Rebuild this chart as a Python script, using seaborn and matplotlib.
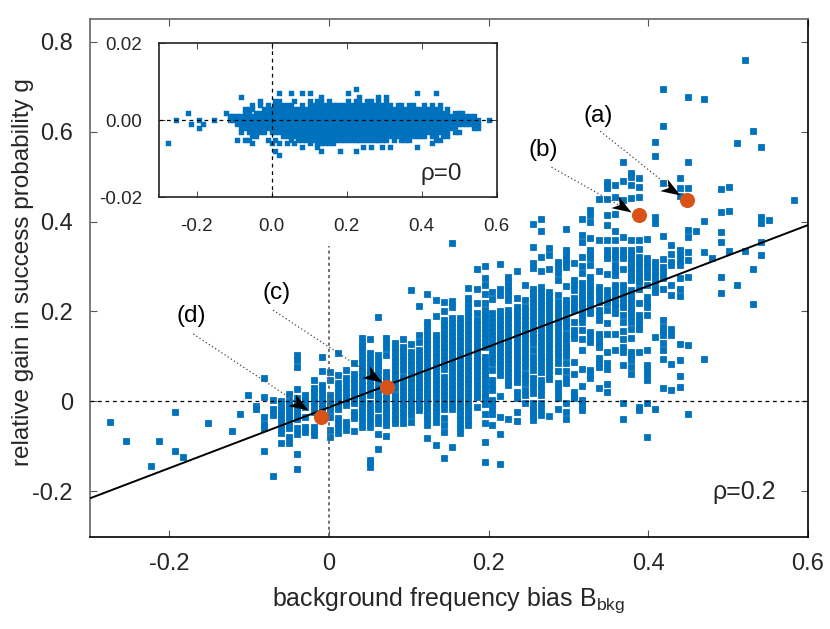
"""Gain in success probability vs background frequency bias, rho=0.2 with rho=0 inset."""
import matplotlib

matplotlib.use("Agg")
import matplotlib.pyplot as plt
import pandas as pd
import seaborn as sns
from matplotlib.markers import MarkerStyle
from matplotlib.path import Path

# ---- main panel ----
bias_main = [
    -0.274, -0.254, -0.223, -0.213, -0.193, -0.183, -0.152, -0.121, -0.111, -0.101, -0.091, -0.081,
    -0.070, -0.060, -0.050, -0.040, -0.030, -0.019, -0.009, 0.001, 0.011, 0.021, 0.032, 0.042,
    0.052, 0.062, 0.072, 0.083, 0.093, 0.103, 0.113, 0.123, 0.134, 0.144, 0.154, 0.164,
    0.174, 0.185, 0.195, 0.205, 0.215, 0.225, 0.236, 0.246, 0.256, 0.266, 0.276, 0.287,
    0.297, 0.307, 0.317, 0.327, 0.338, 0.348, 0.358, 0.368, 0.378, 0.389, 0.399, 0.409,
    0.419, 0.429, 0.440, 0.450, 0.460, 0.470, 0.480, 0.491, 0.501, 0.511, 0.521, 0.531,
    0.542, 0.552, 0.583,
]
gain_main = [
    [-0.045], [-0.089], [-0.143], [-0.089], [-0.023, -0.110], [-0.124], [-0.048], [-0.066], [-0.029], [0.014],
    [-0.01, -0.018],
    [0.053, 0.01, -0.035, -0.05, -0.06, -0.11],
    [0.003, -0.016, -0.03, -0.166],
    [0.0, -0.01, -0.02, -0.03, -0.04, -0.05, -0.06, -0.071, -0.093],
    [0.016, 0.0, -0.01, -0.02, -0.03, -0.038, -0.053, -0.06, -0.079, -0.093],
    [0.103, 0.092, 0.077, 0.027, 0.007, -0.003, -0.013, -0.023, -0.033, -0.04, -0.06, -0.073, -0.117, -0.15],
    [0.014, 0.004, -0.005, -0.012, -0.034, -0.056, -0.067],
    [0.047, 0.029, 0.02, 0.01, 0.0, -0.01, -0.023, -0.056, -0.065, -0.075],
    [0.098, 0.068, 0.036, 0.026, 0.016, 0.006, -0.004, -0.014, -0.023],
    [0.066, 0.047, 0.014, 0.0, -0.01, -0.02, -0.034, -0.064, -0.08],
    [0.107, 0.059, 0.04, 0.03, 0.02, 0.01, 0.0, -0.008, -0.016, -0.038, -0.048, -0.058, -0.071],
    [0.07, 0.051, 0.04, 0.03, 0.02, 0.01, 0.0, -0.008, -0.045, -0.055, -0.064],
    [0.085, 0.062, 0.05, 0.04, 0.03, 0.02, 0.01, 0.0, -0.004, -0.023, -0.03, -0.038, -0.066],
    [0.14, 0.13, 0.122, 0.11, 0.096, 0.086, 0.077, 0.066, 0.056, 0.046, 0.036, 0.026, 0.016, 0.006, -0.004, -0.014,
     -0.024, -0.034, -0.044, -0.056],
    [0.139, 0.107, 0.097, 0.087, 0.077, 0.066, 0.056, 0.046, 0.036, 0.026, 0.014, -0.004, -0.014, -0.024, -0.034,
     -0.044, -0.056, -0.13, -0.138, -0.145],
    [0.187, 0.103, 0.092, 0.082, 0.072, 0.062, 0.047, 0.033, 0.023, 0.013, 0.003, -0.007, -0.017, -0.034, -0.049,
     -0.073, -0.106],
    [0.14, 0.13, 0.118, 0.103, 0.066, 0.056, 0.046, 0.036, 0.026, 0.016, 0.006, -0.004, -0.014, -0.024, -0.034,
     -0.044, -0.053, -0.077],
    [0.129, 0.119, 0.109, 0.099, 0.089, 0.081, 0.07, 0.06, 0.05, 0.04, 0.03, 0.014, 0.01, 0.0, -0.01, -0.02, -0.03,
     -0.04, -0.049],
    [0.138, 0.122, 0.112, 0.102, 0.092, 0.082, 0.07, 0.055, 0.045, 0.035, 0.025, 0.015, 0.005, -0.005, -0.015,
     -0.025, -0.034, -0.047],
    [0.248, 0.128, 0.11, 0.1, 0.09, 0.08, 0.07, 0.06, 0.05, 0.04, 0.03, 0.02, 0.01, 0.0, -0.01, -0.02, -0.03, -0.045],
    [0.212, 0.148, 0.133, 0.114, 0.103, 0.093, 0.083, 0.073, 0.063, 0.053, 0.04, 0.033, 0.023, 0.013, 0.003, -0.007,
     -0.019],
    [0.239, 0.177, 0.167, 0.157, 0.147, 0.137, 0.127, 0.117, 0.107, 0.097, 0.087, 0.077, 0.067, 0.057, 0.047, 0.037,
     0.027, 0.018, 0.01, 0.0, -0.01, -0.02, -0.03, -0.04, -0.053, -0.081],
    [0.226, 0.19, 0.148, 0.138, 0.128, 0.118, 0.108, 0.098, 0.088, 0.078, 0.068, 0.058, 0.048, 0.038, 0.028, 0.018,
     0.008, -0.002, -0.012, -0.022, -0.032, -0.045, -0.096],
    [0.222, 0.2, 0.181, 0.171, 0.161, 0.151, 0.141, 0.131, 0.121, 0.111, 0.101, 0.091, 0.081, 0.071, 0.055, 0.044,
     0.034, 0.024, 0.014, 0.004, -0.006, -0.016, -0.038, -0.053, -0.068, -0.127],
    [0.352, 0.223, 0.209, 0.185, 0.175, 0.165, 0.155, 0.145, 0.135, 0.125, 0.115, 0.105, 0.095, 0.085, 0.077, 0.067,
     0.057, 0.047, 0.037, 0.027, 0.017, 0.007, -0.003, -0.016, -0.102],
    [0.185, 0.174, 0.164, 0.154, 0.144, 0.134, 0.124, 0.114, 0.104, 0.094, 0.084, 0.074, 0.064, 0.054, 0.044, 0.034,
     0.024, 0.01, 0.0, -0.01, -0.02, -0.03, -0.04, -0.05, -0.06, -0.071],
    [0.253, 0.229, 0.219, 0.209, 0.199, 0.189, 0.179, 0.169, 0.159, 0.149, 0.139, 0.129, 0.119, 0.109, 0.099, 0.089,
     0.079, 0.069, 0.059, 0.049, 0.04, 0.029, 0.019, 0.009, -0.001, -0.011, -0.021, -0.031, -0.041, -0.053],
    [0.295, 0.25, 0.218, 0.196, 0.182, 0.172, 0.162, 0.152, 0.142, 0.132, 0.122, 0.112, 0.102, 0.092, 0.085, 0.077,
     0.067, 0.057, 0.047, 0.037, 0.027, 0.017, 0.01, -0.013],
    [0.301, 0.274, 0.259, 0.24, 0.218, 0.203, 0.193, 0.183, 0.173, 0.163, 0.153, 0.143, 0.133, 0.122, 0.099, 0.089,
     0.079, 0.069, 0.059, 0.049, 0.039, 0.029, 0.019, 0.009, 0.003, -0.006, -0.029, -0.047, -0.09, -0.134],
    [0.244, 0.227, 0.196, 0.186, 0.176, 0.166, 0.156, 0.146, 0.136, 0.126, 0.116, 0.106, 0.096, 0.086, 0.07, 0.047,
     0.037, 0.025, 0.003, -0.006, -0.016, -0.027, -0.053],
    [0.306, 0.251, 0.237, 0.2, 0.19, 0.18, 0.17, 0.16, 0.15, 0.14, 0.13, 0.12, 0.11, 0.1, 0.09, 0.08, 0.07, 0.059,
     0.013, -0.034, -0.073, -0.14],
    [0.277, 0.267, 0.257, 0.247, 0.237, 0.226, 0.203, 0.192, 0.185, 0.175, 0.165, 0.155, 0.145, 0.135, 0.125, 0.115,
     0.105, 0.095, 0.085, 0.075, 0.065, 0.055, 0.045, 0.036, -0.039],
    [0.289, 0.231, 0.211, 0.201, 0.191, 0.181, 0.171, 0.161, 0.151, 0.141, 0.131, 0.121, 0.111, 0.101, 0.091, 0.081,
     0.071, 0.061, 0.051, 0.044, 0.022, 0.007, -0.024, -0.044],
    [0.259, 0.226, 0.211, 0.201, 0.191, 0.181, 0.171, 0.161, 0.151, 0.141, 0.131, 0.118, 0.107, 0.097, 0.087, 0.077,
     0.062, 0.052, 0.042, 0.025, 0.014, -0.004],
    [0.395, 0.344, 0.307, 0.296, 0.251, 0.241, 0.231, 0.221, 0.211, 0.201, 0.191, 0.181, 0.171, 0.161, 0.151, 0.141,
     0.131, 0.114, 0.099, 0.089, 0.079, 0.07, 0.051, 0.041, 0.031, 0.018, -0.004, -0.014, -0.024, -0.032, -0.042],
    [0.406, 0.378, 0.322, 0.289, 0.254, 0.244, 0.234, 0.224, 0.214, 0.204, 0.194, 0.184, 0.174, 0.164, 0.154, 0.144,
     0.134, 0.124, 0.11, 0.099, 0.089, 0.079, 0.066, 0.047, 0.037, 0.027, 0.014, -0.004, -0.016, -0.03],
    [0.342, 0.326, 0.294, 0.244, 0.234, 0.224, 0.218, 0.211, 0.201, 0.191, 0.181, 0.171, 0.161, 0.151, 0.141, 0.129,
     0.118, 0.108, 0.099, 0.092, 0.082, 0.072, 0.059, 0.05, -0.032],
    [0.311, 0.298, 0.285, 0.27, 0.237, 0.222, 0.207, 0.197, 0.187, 0.177, 0.167, 0.155, 0.144, 0.129, 0.118, 0.108,
     0.098, 0.085, 0.068, 0.04, 0.03, 0.02, 0.007, -0.017],
    [0.383, 0.337, 0.327, 0.317, 0.307, 0.3, 0.257, 0.226, 0.216, 0.206, 0.196, 0.186, 0.176, 0.166, 0.151, 0.14,
     0.13, 0.12, 0.11, 0.1, 0.085, 0.068, 0.051, 0.04, -0.004, -0.023, -0.04],
    [0.307, 0.27, 0.259, 0.248, 0.229, 0.219, 0.209, 0.203, 0.177, 0.159, 0.149, 0.14, 0.088, 0.061, 0.022, 0.014,
     0.007],
    [0.406, 0.37, 0.355, 0.322, 0.301, 0.285, 0.263, 0.251, 0.237, 0.227, 0.217, 0.207, 0.197, 0.187, 0.177, 0.159,
     0.138, 0.114, 0.073, 0.035, 0.003, -0.009, -0.019],
    [0.426, 0.415, 0.4, 0.363, 0.337, 0.327, 0.318, 0.303, 0.277, 0.267, 0.257, 0.247, 0.237, 0.227, 0.217, 0.207,
     0.196, 0.155, 0.145, 0.133, 0.07, 0.06, 0.051],
    [0.45, 0.358, 0.289, 0.255, 0.245, 0.233, 0.222, 0.203, 0.192, 0.181, 0.151, 0.141, 0.131, 0.122, 0.096, 0.086,
     0.077, 0.03],
    [0.489, 0.481, 0.474, 0.45, 0.414, 0.392, 0.358, 0.337, 0.327, 0.318, 0.283, 0.248, 0.238, 0.228, 0.218, 0.203,
     0.175, 0.149, 0.109, 0.085, 0.073, 0.039, 0.02],
    [0.481, 0.455, 0.417, 0.378, 0.358, 0.337, 0.327, 0.318, 0.303, 0.292, 0.281, 0.259, 0.249, 0.239, 0.229, 0.219,
     0.209, 0.196, 0.151, 0.114],
    [0.533, 0.491, 0.448, 0.366, 0.337, 0.327, 0.318, 0.294, 0.259, 0.249, 0.239, 0.229, 0.219, 0.209, 0.192, 0.177,
     0.157, 0.138, 0.122, 0.11, 0.081, -0.004, -0.04],
    [0.507, 0.5, 0.481, 0.452, 0.359, 0.337, 0.327, 0.318, 0.307, 0.297, 0.287, 0.277, 0.27, 0.248, 0.238, 0.228,
     0.218, 0.208, 0.198, 0.188, 0.177, 0.16, 0.142, 0.11, 0.1, 0.092, 0.077, 0.062],
    [0.496, 0.478, 0.455, 0.358, 0.339, 0.322, 0.311, 0.3, 0.285, 0.275, 0.265, 0.251, 0.218, 0.192, 0.182, 0.172,
     0.162, 0.109, -0.012, -0.019],
    [0.361, 0.318, 0.308, 0.298, 0.288, 0.277, 0.26, 0.233, 0.222, 0.211, 0.192, 0.114, 0.081, 0.071, 0.061, 0.047,
     -0.004, -0.079],
    [0.576, 0.547, 0.411, 0.396, 0.311, 0.301, 0.291, 0.281, 0.271, 0.263, 0.251, 0.244, 0.144, -0.017],
    [0.695, 0.613, 0.485, 0.368, 0.316, 0.3, 0.287, 0.274, 0.251, 0.181, 0.166, 0.157, 0.148, 0.129, 0.114, 0.094,
     0.029],
    [0.349, 0.329, 0.311, 0.303, 0.259, 0.237, 0.162, 0.148, 0.083, 0.025],
    [0.498, 0.475, 0.457, 0.337, 0.326, 0.315, 0.303, 0.274, 0.251, 0.234, 0.128, 0.093, 0.057, 0.033],
    [0.677, 0.532, 0.475, 0.381, 0.366, 0.333, 0.315, 0.277, 0.125, -0.029],
    [0.378],
    [0.673, 0.401, 0.333, 0.094],
    [0.32],
    [0.473, 0.422, 0.376, 0.354, 0.276, 0.242],
    [0.478, 0.424, 0.335],
    [0.574, 0.259],
    [0.76, 0.335],
    [0.602, 0.295, 0.216],
    [0.566, 0.411, 0.396, 0.354, 0.326],
    [0.403],
    [0.448],
]

fit_bias = [-0.3, 0.6]
fit_gain = [-0.216, 0.392]

marked_bias = [0.449, 0.389, 0.073, -0.010]
marked_gain = [0.447, 0.414, 0.033, -0.034]
marked_labels = ["(a)", "(b)", "(c)", "(d)"]
label_bias = [0.338, 0.268, -0.066, -0.172]
label_gain = [0.635, 0.559, 0.241, 0.190]
leader_bias = [0.340, 0.279, -0.070, -0.170]
leader_gain = [0.601, 0.521, 0.203, 0.150]
tip_bias = [0.440, 0.378, 0.066, -0.026]
tip_gain = [0.459, 0.422, 0.044, -0.019]

main_xticks = [-0.2, 0, 0.2, 0.4, 0.6]
main_xlabels = ["-0.2", "0", "0.2", "0.4", "0.6"]
main_yticks = [-0.2, 0, 0.2, 0.4, 0.6, 0.8]
main_ylabels = ["-0.2", "0", "0.2", "0.4", "0.6", "0.8"]

# ---- inset, gain is in thousandths ----
bias_inset = [
    -0.276, -0.255, -0.224, -0.214, -0.194, -0.183, -0.153, -0.122, -0.112, -0.102, -0.092, -0.081, -0.071,
    -0.061, -0.051, -0.041, -0.031, -0.020, -0.010, 0.000, 0.010, 0.020, 0.031, 0.041, 0.051, 0.061, 0.071,
    0.081, 0.092, 0.102, 0.112, 0.122, 0.132, 0.143, 0.153, 0.163, 0.173, 0.183, 0.193, 0.204, 0.214, 0.224,
    0.234, 0.244, 0.254, 0.265, 0.275, 0.285, 0.295, 0.305, 0.316, 0.326, 0.336, 0.346, 0.356, 0.366, 0.377,
    0.387, 0.397, 0.407, 0.417, 0.428, 0.438, 0.448, 0.458, 0.468, 0.478, 0.488, 0.499, 0.509, 0.519, 0.529,
    0.539, 0.550, 0.580,
]
gain_inset_milli = [
    [-6], [0], [2], [-1], [0, -2], [-1], [0], [2], [1, 0], [1, 0], [1, 0, -1, -5],
    [6, 1, 0, -1, -2, -3],
    [3, 2, 1, 0, -1, -2, -5],
    [3, 2, 1, 0, -1, -2, -3, -5],
    [4, 3, 1, 0, -1, -2, -3, -4, -6],
    [2, 1, 0, -1, -2, -3, -4],
    [5, 4, 2, 1, 0, -1, -2, -3],
    [3, 2, 1, 0, -1, -2, -3],
    [4, 3, 2, 1, 0, -1, -2, -5],
    [3, 2, 1, 0, -1, -2, -3, -6],
    [5, 4, 3, 2, 1, 0, -1, -2, -3, -5, -8],
    [7, 5, 4, 3, 2, 1, 0, -1, -2, -3, -6, -9],
    [4, 3, 2, 1, 0, -1, -2, -3, -4],
    [4, 3, 2, 1, 0, -1, -2, -3, -4, -6],
    [7, 4, 3, 2, 1, 0, -1, -2, -3, -4, -5],
    [5, 3, 2, 1, 0, -1, -2, -3, -4, -6],
    [3, 2, 1, 0, -1, -2, -3, -4, -5],
    [7, 4, 3, 2, 1, 0, -1, -2, -3, -4, -5, -7],
    [3, 2, 1, 0, -1, -2, -3, -4, -5],
    [7, 5, 4, 3, 2, 1, 0, -1, -2, -3, -4, -5, -6],
    [4, 3, 2, 1, 0, -1, -2, -3, -4, -5],
    [5, 4, 3, 2, 1, 0, -1, -2, -3, -4, -5, -6, -7],
    [6, 5, 4, 3, 2, 1, 0, -1, -2, -3, -4, -5, -6, -8],
    [4, 3, 2, 1, 0, -1, -2, -3, -4, -5, -6],
    [5, 4, 3, 2, 1, 0, -1, -2, -3, -4, -5, -6],
    [4, 3, 2, 1, 0, -1, -2, -3, -4, -5, -6],
    [4, 3, 2, 1, 0, -1, -2, -3, -4, -5],
    [4, 3, 2, 1, 0, -1, -2, -3, -4, -5, -8],
    [4, 3, 2, 1, 0, -1, -2, -3, -4, -5],
    [7, 5, 4, 3, 2, 1, 0, -1, -2, -3, -4, -5],
    [4, 3, 2, 1, 0, -1, -2, -3, -4, -5],
    [8, 5, 4, 3, 2, 1, 0, -1, -2, -3, -4, -5, -8],
    [6, 5, 4, 3, 2, 1, 0, -1, -2, -3, -4, -5],
    [4, 3, 2, 1, 0, -1, -2, -3, -4, -5, -7],
    [5, 4, 3, 2, 1, 0, -1, -2, -3, -4, -5],
    [5, 4, 3, 2, 1, 0, -1, -2, -3, -4, -5, -7],
    [4, 3, 2, 1, 0, -1, -2, -3, -4, -5],
    [6, 5, 4, 3, 2, 1, 0, -1, -2, -3, -4, -5],
    [4, 3, 2, 1, 0, -1, -2, -3, -4, -5, -7],
    [6, 5, 4, 3, 2, 1, 0, -1, -2, -3, -4, -5],
    [4, 3, 2, 1, 0, -1, -2, -3, -4, -7],
    [3, 2, 1, 0, -1, -2, -3, -4, -5],
    [4, 3, 2, 1, 0, -1, -2, -3, -4],
    [4, 3, 2, 1, 0, -1, -2, -3, -4, -5],
    [3, 2, 1, 0, -1, -2, -3, -4, -5],
    [4, 3, 2, 1, 0, -1, -2, -3, -4, -5],
    [4, 3, 2, 1, 0, -1, -2, -3, -4],
    [7, 3, 2, 1, 0, -1, -2, -3, -4, -7],
    [3, 2, 1, 0, -1, -2, -3, -4],
    [4, 3, 2, 1, 0, -1, -2, -3, -4],
    [3, 2, 1, 0, -1, -2, -3],
    [4, 3, 2, 1, 0, -1, -2, -3, -4, -6],
    [7, 3, 2, 1, 0, -1, -2, -3, -4, -5],
    [4, 3, 2, 1, 0, -1, -2, -3, -5],
    [2, 1, 0, -1, -2, -3, -4],
    [3, 2, 1, 0, -1, -2, -3, -4],
    [1, 0, -1, -2],
    [2, 1, 0, -1, -2, -3],
    [2, 1, 0, -1, -3],
    [2, 1, 0, -1],
    [1, 0, -1],
    [1, 0, -1],
    [1, 0, -1, -2],
    [0, -1, -2],
    [0],
]

inset_xticks = [-0.2, 0.0, 0.2, 0.4, 0.6]
inset_xlabels = ["-0.2", "0.0", "0.2", "0.4", "0.6"]
inset_yticks = [-0.02, 0.0, 0.02]
inset_ylabels = ["-0.02", "0.00", "0.02"]

BLUE = "#0072BD"
ORANGE = "#D95319"
W, H = 830, 629


def long_form(xs, columns, scale=1.0):
    rows = [(x, y * scale) for x, col in zip(xs, columns) for y in col]
    return pd.DataFrame(rows, columns=["bias", "gain"])


def px_axes(fig, left, top, right, bottom):
    return fig.add_axes([left / W, 1 - bottom / H, (right - left) / W, (bottom - top) / H])


sns.set_theme(style="ticks")
plt.rcParams["font.family"] = ["Liberation Sans", "DejaVu Sans"]
plt.rcParams["mathtext.fontset"] = "custom"
plt.rcParams["mathtext.rm"] = "Liberation Sans"

fig = plt.figure(figsize=(W / 100, H / 100), dpi=100)

# ---- main panel ----
ax = px_axes(fig, 89.5, 19.3, 807.7, 536.7)
sns.scatterplot(data=long_form(bias_main, gain_main), x="bias", y="gain", marker="s", s=24,
                color=BLUE, linewidth=0, ax=ax, zorder=2)
ax.collections[-1].set_snap(False)  # soft edges, keeps the columns apart
ax.plot(fit_bias, fit_gain, color="black", lw=1.4, zorder=3)
ax.plot([-0.3, 0.6], [0, 0], color="black", lw=0.9, ls=(0, (3, 3)), zorder=3)
ax.plot([0, 0], [-0.3, 0.345], color="#666666", lw=1.3, ls=(0, (1.7, 1.7)), zorder=3)

for i, lab in enumerate(marked_labels):
    ax.plot([leader_bias[i], tip_bias[i]], [leader_gain[i], tip_gain[i]], color="#444444",
            lw=0.9, ls=(0, (1, 2)), zorder=4)
    ax.text(label_bias[i], label_gain[i], lab, ha="center", va="center", fontsize=17.5, color="black")

sns.scatterplot(x=marked_bias, y=marked_gain, s=118, color=ORANGE, linewidth=0, ax=ax, zorder=5)

# stealth arrow heads, nose at the origin of the marker path
head = Path([(0, 0), (-1, 0.36), (-0.72, 0), (-1, -0.36), (0, 0)],
            [Path.MOVETO, Path.LINETO, Path.LINETO, Path.LINETO, Path.CLOSEPOLY])
for i in range(4):
    ax.plot(tip_bias[i], tip_gain[i], ls="none", color="black", markersize=28, markeredgewidth=0,
            marker=MarkerStyle(head).rotated(deg=-32), zorder=6)

ax.text(0.52, -0.202, "ρ=0.2", ha="center", va="center", fontsize=18)
ax.set_xlim(-0.3, 0.6)
ax.set_ylim(-0.301, 0.85)
ax.set_xticks(main_xticks, main_xlabels)
ax.set_yticks(main_yticks, main_ylabels)
ax.tick_params(direction="in", length=5, width=0.8, color="#555555", top=True, right=True,
               labelsize=17, bottom=True, left=True)
ax.tick_params(axis="x", pad=12)
ax.tick_params(axis="y", pad=12)
ax.set_xlabel("background frequency bias B$_{\\mathrm{bkg}}$", fontsize=18)
ax.set_ylabel("relative gain in success probability g", fontsize=17.5)
ax.xaxis.set_label_coords(0.4999, -0.0934)
ax.yaxis.set_label_coords(-0.077, 0.5106)
for side, col in zip(["left", "top", "right", "bottom"], ["#666666", "#666666", "black", "black"]):
    ax.spines[side].set_visible(True)
    ax.spines[side].set_color(col)
    ax.spines[side].set_linewidth(1.2)

# ---- inset ----
axi = px_axes(fig, 159, 43.2, 496.5, 197.5)
axi.set_facecolor("white")
sns.scatterplot(data=long_form(bias_inset, gain_inset_milli, 0.001), x="bias", y="gain", marker="s", s=15,
                color=BLUE, linewidth=0, ax=axi, zorder=2)
axi.collections[-1].set_snap(False)
axi.plot([-0.3, 0.6], [0, 0], color="black", lw=0.9, ls=(0, (3, 3)), zorder=3)
axi.plot([0, 0], [-0.02, 0.02], color="black", lw=0.9, ls=(0, (3, 3)), zorder=3)
axi.text(0.507, -0.0138, "ρ=0", ha="right", va="center", fontsize=17.5)
axi.set_xlim(-0.3, 0.6)
axi.set_ylim(-0.02, 0.02)
axi.set_xticks(inset_xticks, inset_xlabels)
axi.set_yticks(inset_yticks, inset_ylabels)
axi.tick_params(direction="in", length=4, width=0.7, color="#444444", top=True, right=True,
                labelsize=13.5)
axi.tick_params(axis="x", pad=15)
axi.tick_params(axis="y", pad=12)
axi.set_xlabel("")
axi.set_ylabel("")
for side in ["left", "top", "right", "bottom"]:
    axi.spines[side].set_visible(True)
    axi.spines[side].set_color("#222222")
    axi.spines[side].set_linewidth(1.2)

fig.savefig("out.png", dpi=100)
